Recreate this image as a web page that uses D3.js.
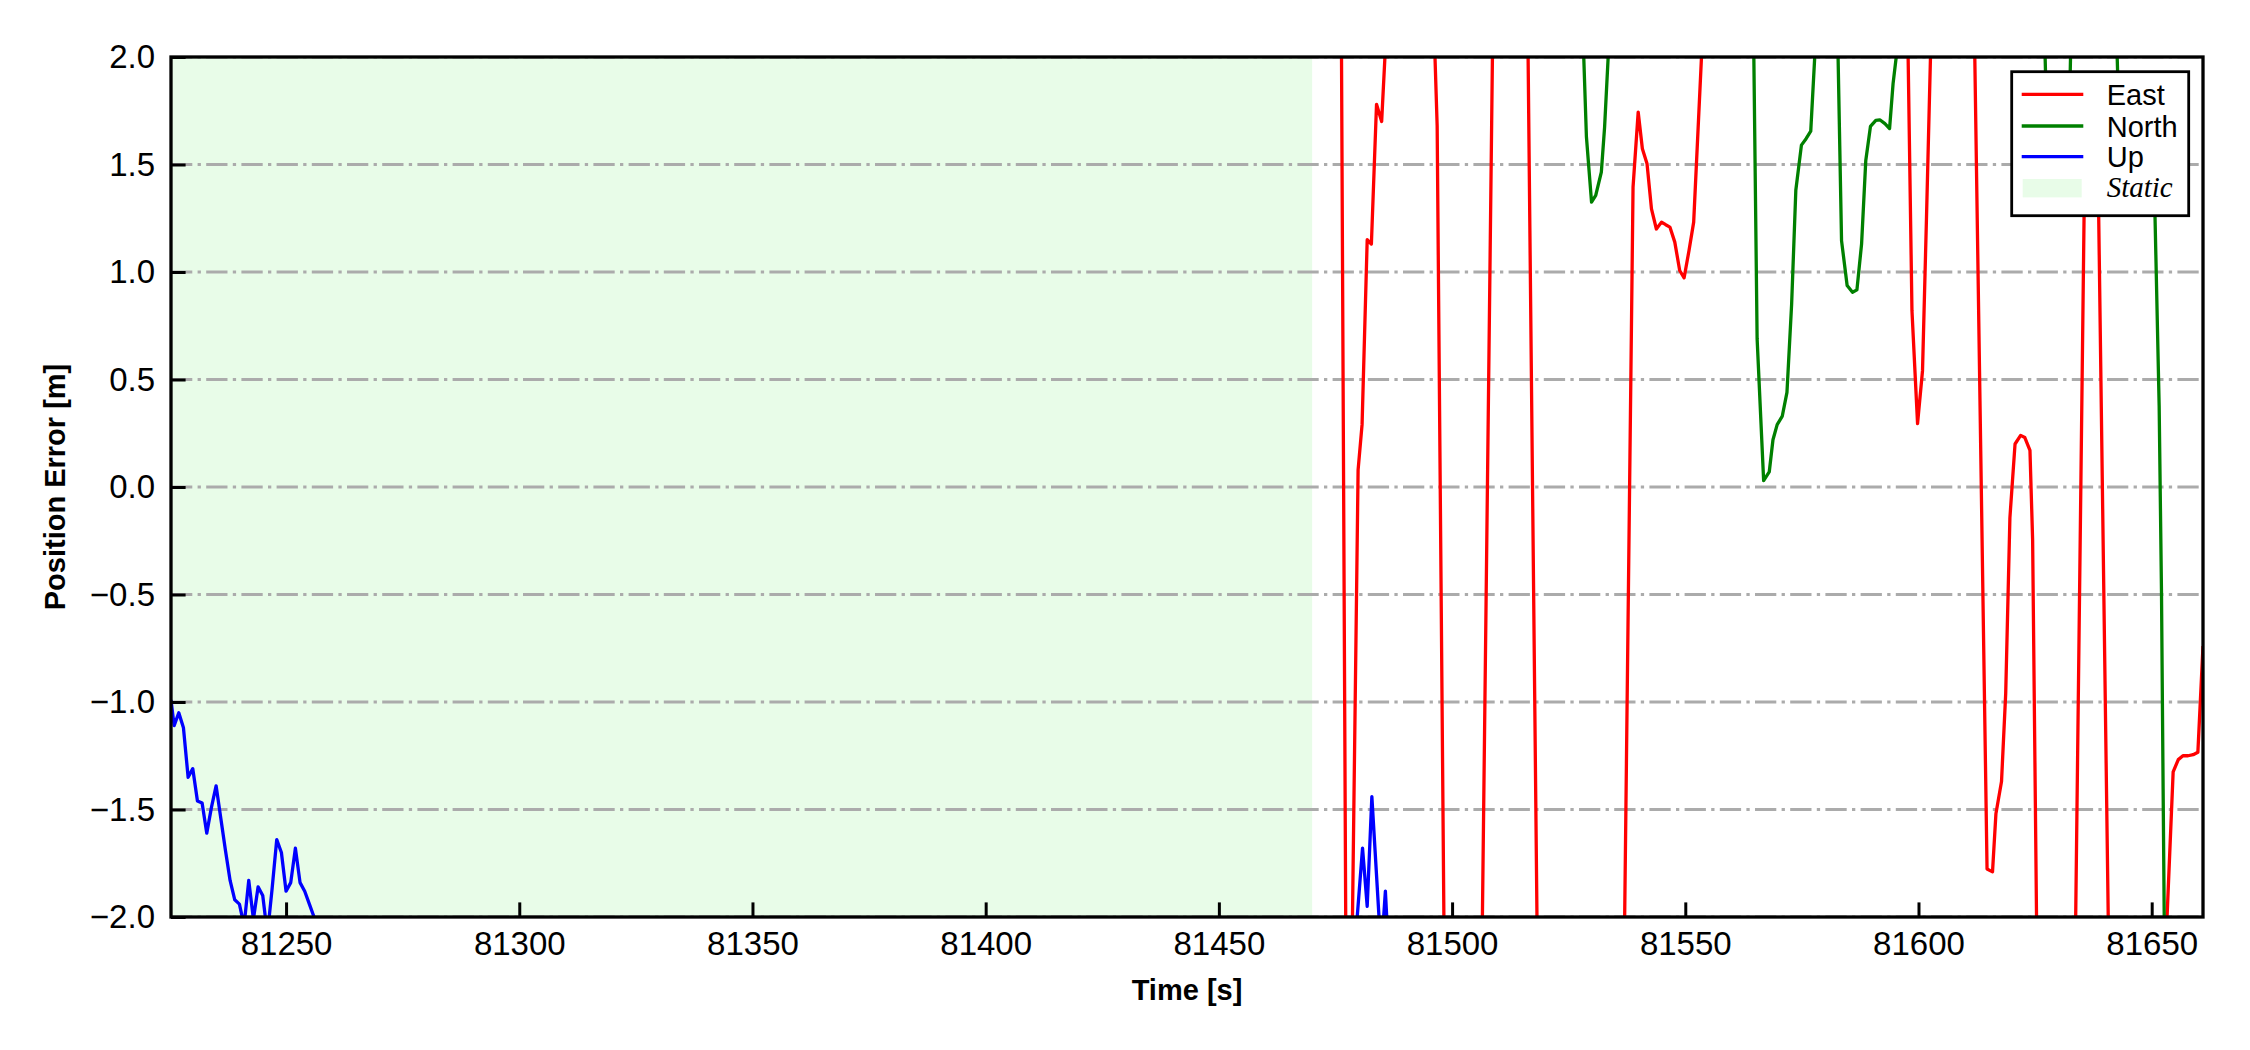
<!DOCTYPE html>
<html><head><meta charset="utf-8">
<script src="https://cdn.jsdelivr.net/npm/d3@7"></script>
<style>body{margin:0;background:#fff}svg{display:block}</style>
</head><body><svg id="c" width="2250" height="1050"></svg>
<script>
// ---------------- data ----------------
const xDomain = [81225.33, 81661.0];
const yDomain = [-2, 2];
const xTicks = [81250, 81300, 81350, 81400, 81450, 81500, 81550, 81600, 81650];
const yTicks = [-2.0, -1.5, -1.0, -0.5, 0.0, 0.5, 1.0, 1.5, 2.0];
const staticSpan = [81225.33, 81470.0];

const eastT = [81476.0,81477.6,81479.85,81480.7,81481.8,81482.7,81483.8,81484.9,81486.0,81491.0,81495.9,81496.8,81498.4,81502.0,81506.2,81509.0,81512.0,81516.0,81518.5,81527.0,81536.8,81538.8,81539.9,81540.8,81541.8,81542.75,81543.8,81544.9,81545.8,81546.7,81547.75,81548.8,81549.75,81550.8,81551.8,81553.8,81575.0,81597.5,81598.6,81599.8,81600.86,81601.7,81602.8,81607.0,81611.8,81614.7,81615.87,81616.6,81617.8,81618.7,81619.6,81620.7,81621.9,81622.8,81623.9,81624.47,81625.5,81629.0,81633.4,81635.8,81637.0,81638.3,81640.9,81647.0,81653.1,81654.6,81655.7,81656.7,81657.8,81658.9,81659.9,81661.0];
const eastV = [3.3,-3.8,0.08,0.29,1.15,1.13,1.78,1.70,2.17,3.0,2.3,1.68,-2.4,-3.0,-2.56,2.65,3.0,2.63,-2.63,-3.0,-2.38,1.395,1.744,1.573,1.503,1.294,1.20,1.232,1.22,1.209,1.139,1.007,0.973,1.10,1.232,2.15,3.0,2.4,0.82,0.295,0.54,1.24,2.2,3.0,2.39,-1.777,-1.79,-1.52,-1.37,-0.96,-0.143,0.20,0.24,0.23,0.17,-0.245,-2.4,-3.0,-2.55,1.8,1.85,1.8,-2.35,-3.0,-2.1,-1.325,-1.268,-1.25,-1.25,-1.245,-1.234,-0.74];

const northT = [81527.8,81528.8,81529.9,81530.8,81532.0,81532.7,81533.7,81550.0,81564.5,81565.4,81566.8,81568.0,81568.8,81569.7,81570.8,81571.8,81572.8,81573.7,81574.9,81575.9,81576.9,81578.0,81580.0,81582.5,81583.5,81584.7,81585.85,81586.8,81587.8,81588.7,81589.7,81590.85,81591.7,81592.8,81593.8,81594.55,81595.5,81610.0,81626.8,81627.5,81629.0,81631.0,81632.3,81632.9,81637.0,81642.2,81643.0,81645.0,81647.0,81649.7,81650.7,81651.6,81652.1,81652.45,81653.0,81661.0];
const northV = [2.28,1.63,1.325,1.356,1.465,1.674,2.1,3.0,2.37,0.69,0.03,0.07,0.22,0.29,0.33,0.44,0.85,1.38,1.59,1.62,1.655,2.1,2.6,2.3,1.146,0.937,0.906,0.917,1.131,1.519,1.677,1.705,1.708,1.69,1.667,1.876,2.05,3.0,2.3,1.7,1.6,1.55,1.7,2.3,3.0,2.3,1.7,1.65,1.6,1.7,1.27,0.378,-0.49,-1.405,-2.8,-3.5];

const upT = [81225.33,81226,81227,81228,81229,81230,81231,81232,81233,81234,81235,81236,81237,81238,81239,81240,81241,81242,81243,81244,81245,81246,81247,81248,81249,81250,81251,81252,81253,81254,81255,81256,81257,81300,81400,81479.3,81480.8,81481.8,81482.8,81484.8,81485.7,81486.7,81500];
const upV = [-0.99,-1.11,-1.05,-1.12,-1.35,-1.31,-1.46,-1.47,-1.61,-1.49,-1.39,-1.54,-1.69,-1.83,-1.92,-1.94,-2.04,-1.83,-2.01,-1.86,-1.90,-2.08,-1.87,-1.64,-1.70,-1.88,-1.84,-1.68,-1.84,-1.88,-1.94,-2.0,-2.06,-2.8,-2.9,-2.1,-1.68,-1.95,-1.44,-2.17,-1.88,-2.3,-2.9];

const seriesNames = ["East", "North", "Up"];
const seriesColors = ["#ff0000", "#008000", "#0000ff"];
const staticLabel = "Static";
const xLabel = "Time [s]";
const yLabel = "Position Error [m]";

// ---------------- layout ----------------
const W = 2250, H = 1050;
const M = {left: 171, right: 47, top: 57, bottom: 133};
const pw = W - M.left - M.right, ph = H - M.top - M.bottom;
const LW = 3.3;

const svg = d3.select("#c");
const g = svg.append("g").attr("transform", `translate(${M.left},${M.top})`);
const x = d3.scaleLinear().domain(xDomain).range([0, pw]);
const y = d3.scaleLinear().domain(yDomain).range([ph, 0]);

svg.append("defs").append("clipPath").attr("id", "clip")
  .append("rect").attr("width", pw).attr("height", ph);

const plot = g.append("g").attr("clip-path", "url(#clip)");

// static shading
plot.append("rect")
  .attr("x", x(staticSpan[0])).attr("y", 0)
  .attr("width", x(staticSpan[1]) - x(staticSpan[0])).attr("height", ph)
  .attr("fill", "#e8fce8");

// grid
plot.selectAll("line.grid").data(yTicks).join("line")
  .attr("class", "grid")
  .attr("x1", 0).attr("x2", pw)
  .attr("y1", d => y(d)).attr("y2", d => y(d))
  .attr("stroke", "#ababab").attr("stroke-width", 2.8)
  .attr("stroke-dasharray", "21.3,5.3,3.3,5.3");

// series
const series = [
  {t: eastT, v: eastV},
  {t: northT, v: northV},
  {t: upT, v: upV}
];
const line = d3.line().x(d => x(d[0])).y(d => y(d[1]));
series.forEach((s, i) => {
  const pts = s.t.map((t, k) => [t, s.v[k]]);
  plot.append("path").datum(pts)
    .attr("d", line)
    .attr("fill", "none")
    .attr("stroke", seriesColors[i])
    .attr("stroke-width", LW)
    .attr("stroke-linejoin", "round");
});

// axes
const fmtY = d => d3.format(".1f")(d).replace("-", "\u2212");
const xAxis = d3.axisBottom(x).tickValues(xTicks).tickFormat(d3.format("d"))
  .tickSizeInner(-14.6).tickSizeOuter(0).tickPadding(14.6);
const yAxis = d3.axisLeft(y).tickValues(yTicks).tickFormat(fmtY)
  .tickSizeInner(-14.6).tickSizeOuter(0).tickPadding(16);

const gx = g.append("g").attr("transform", `translate(0,${ph})`).call(xAxis);
const gy = g.append("g").call(yAxis);
[gx, gy].forEach(a => {
  a.select(".domain").remove();
  a.selectAll(".tick line").attr("stroke", "#000").attr("stroke-width", 3);
  a.selectAll(".tick text").attr("fill", "#000")
    .style("font-family", "'Liberation Sans', Arial, sans-serif")
    .style("font-size", "33px");
});

// frame
g.append("rect").attr("width", pw).attr("height", ph)
  .attr("fill", "none").attr("stroke", "#000").attr("stroke-width", LW);

// axis labels
svg.append("text")
  .attr("x", M.left + pw / 2).attr("y", 1000)
  .attr("text-anchor", "middle")
  .style("font-family", "'Liberation Sans', Arial, sans-serif")
  .style("font-size", "29px").style("font-weight", "bold")
  .text(xLabel);
svg.append("text")
  .attr("transform", `translate(65,${M.top + ph / 2}) rotate(-90)`)
  .attr("text-anchor", "middle")
  .style("font-family", "'Liberation Sans', Arial, sans-serif")
  .style("font-size", "29px").style("font-weight", "bold")
  .text(yLabel);

// legend
const lg = svg.append("g").attr("transform", "translate(2011.7,71.7)");
lg.append("rect").attr("width", 177).attr("height", 144)
  .attr("fill", "#fff").attr("stroke", "#000").attr("stroke-width", 2.8);
const rowY = [22.6, 54.3, 85.0, 116.5];
seriesNames.forEach((n, i) => {
  lg.append("line").attr("x1", 10).attr("x2", 71.6)
    .attr("y1", rowY[i]).attr("y2", rowY[i])
    .attr("stroke", seriesColors[i]).attr("stroke-width", LW);
  lg.append("text").attr("x", 95).attr("y", rowY[i] + 10.8)
    .style("font-family", "'Liberation Sans', Arial, sans-serif")
    .style("font-size", "29px").text(n);
});
lg.append("rect").attr("x", 11).attr("y", rowY[3] - 9.2)
  .attr("width", 59).attr("height", 18.4).attr("fill", "#e8fce8");
lg.append("text").attr("x", 95).attr("y", rowY[3] + 9)
  .style("font-family", "'Liberation Serif', 'Times New Roman', serif")
  .style("font-style", "italic")
  .style("font-size", "29px").text(staticLabel);
</script></body></html>
